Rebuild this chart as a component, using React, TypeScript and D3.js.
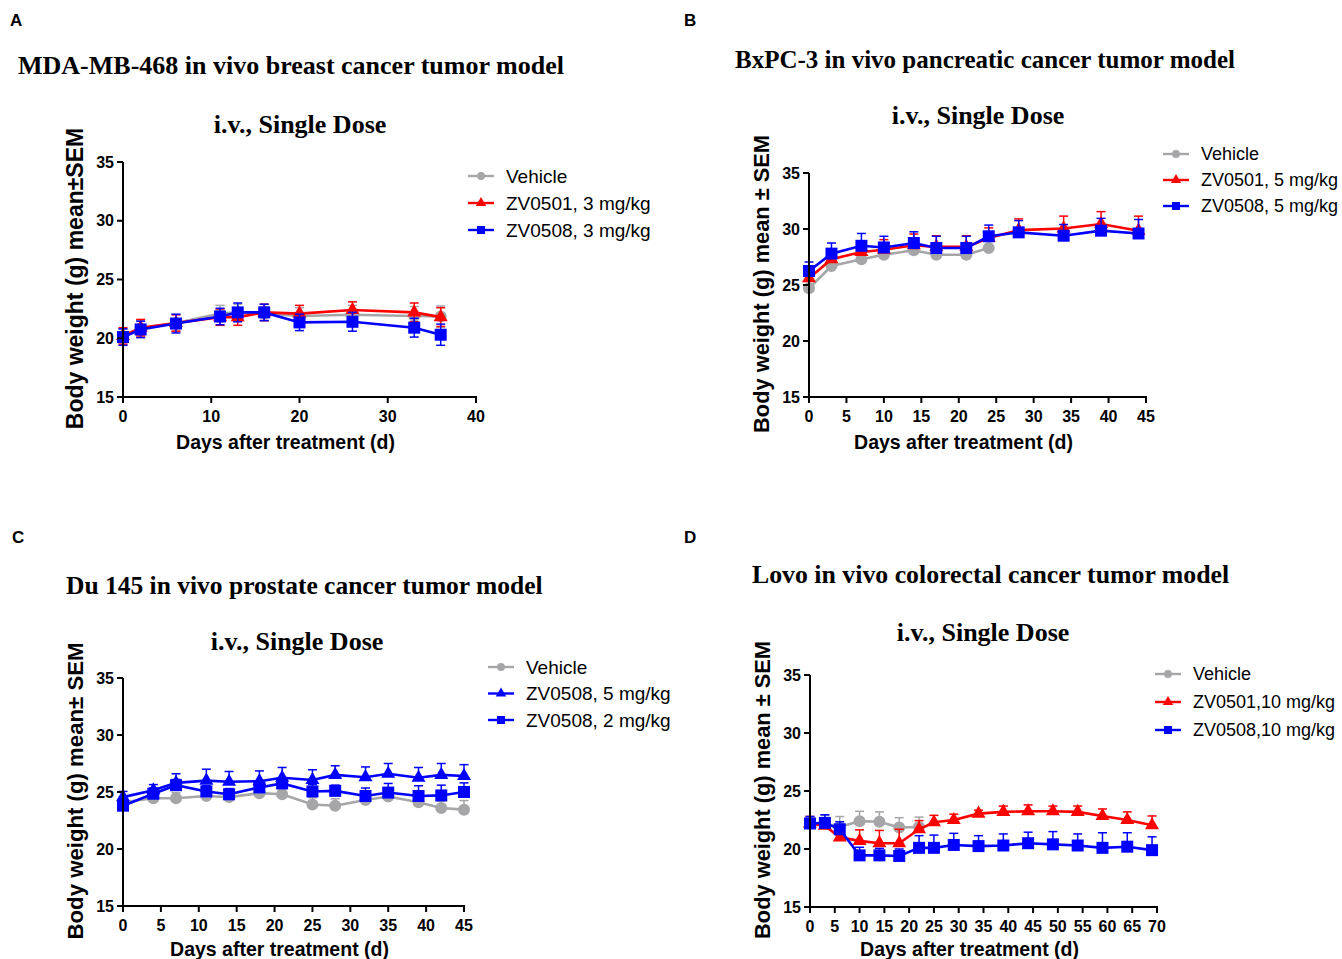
import React from 'react';
import * as d3 from 'd3';

const GRAY = '#a6a6a9';
const RED = '#ff0000';
const BLUE = '#0000ff';

// Panel A – MDA-MB-468
const daysA = [0, 2, 6, 11, 13, 16, 20, 26, 33, 36];
const vehicleA = [20.1, 20.8, 21.3, 22.1, 22.2, 22.1, 21.9, 22.0, 21.9, 21.85];
const vehicleAErr = [0.7, 0.7, 0.7, 0.7, 0.7, 0.6, 0.7, 0.8, 0.8, 0.9];
const zv0501A = [20.2, 20.9, 21.3, 21.8, 21.8, 22.2, 22.1, 22.4, 22.2, 21.8];
const zv0501AErr = [0.7, 0.7, 0.7, 0.7, 0.7, 0.7, 0.7, 0.7, 0.8, 0.8];
const zv0508A = [20.1, 20.75, 21.25, 21.85, 22.2, 22.2, 21.35, 21.4, 20.9, 20.3];
const zv0508AErr = [0.7, 0.7, 0.8, 0.7, 0.8, 0.7, 0.7, 0.8, 0.8, 0.9];

// Panel B – BxPC-3
const daysB = [0, 3, 7, 10, 14, 17, 21, 24, 28, 34, 39, 44];
const vehicleB = [24.7, 26.7, 27.3, 27.7, 28.1, 27.7, 27.7, 28.3];
const vehicleBErr = [0, 0, 0, 0, 0, 0, 0, 0];
const zv0501B = [25.6, 27.3, 27.95, 28.15, 28.55, 28.4, 28.4, 29.2, 29.9, 30.05, 30.45, 29.85];
const zv0501BErr = [0.8, 0.9, 1.0, 0.9, 1.0, 1.0, 1.0, 0.9, 1.0, 1.1, 1.1, 1.3];
const zv0508B = [26.25, 27.8, 28.5, 28.35, 28.75, 28.3, 28.3, 29.35, 29.7, 29.4, 29.85, 29.6];
const zv0508BErr = [0.8, 0.95, 1.1, 1.0, 1.0, 1.05, 1.05, 1.0, 1.05, 1.0, 1.1, 1.25];

// Panel C – Du 145
const daysC = [0, 4, 7, 11, 14, 18, 21, 25, 28, 32, 35, 39, 42, 45];
const vehicleC = [24.1, 24.45, 24.45, 24.65, 24.55, 24.9, 24.8, 23.9, 23.8, 24.3, 24.6, 24.1, 23.6, 23.45];
const vehicleCErr = [0.5, 0.4, 0.5, 0.5, 0.5, 0.5, 0.5, 0.6, 0.6, 0.6, 0.6, 0.6, 0.6, 0.8];
const zv0508_5C = [24.55, 25.15, 25.8, 26.0, 25.9, 25.95, 26.25, 26.05, 26.5, 26.3, 26.6, 26.25, 26.5, 26.4];
const zv0508_5CErr = [0.5, 0.5, 0.8, 1.0, 0.9, 0.9, 0.9, 0.9, 0.8, 0.9, 0.9, 0.9, 1.0, 1.0];
const zv0508_2C = [23.8, 24.85, 25.6, 25.05, 24.8, 25.4, 25.75, 25.05, 25.1, 24.65, 24.95, 24.65, 24.7, 25.0];
const zv0508_2CErr = [0.5, 0.5, 0.5, 0.5, 0.5, 0.5, 0.5, 0.6, 0.5, 0.7, 0.8, 0.9, 0.9, 0.8];

// Panel D – Lovo
const daysD = [0, 3, 6, 10, 14, 18, 22, 25, 29, 34, 39, 44, 49, 54, 59, 64, 69];
const vehicleD = [22.2, 22.2, 21.9, 22.4, 22.35, 21.85, 21.9];
const vehicleDErr = [0.6, 0.7, 0.9, 0.85, 0.85, 0.85, 0.85];
const zv0501D = [22.2, 22.0, 21.0, 20.7, 20.5, 20.5, 21.7, 22.3, 22.5, 23.05, 23.2, 23.25, 23.25, 23.2, 22.85, 22.5, 22.05];
const zv0501DErr = [0.6, 0.5, 0.5, 0.95, 1.1, 1.2, 0.75, 0.6, 0.5, 0.3, 0.5, 0.55, 0.45, 0.5, 0.6, 0.7, 0.8];
const zv0508D = [22.2, 22.25, 21.7, 19.45, 19.45, 19.4, 20.1, 20.1, 20.35, 20.25, 20.3, 20.5, 20.4, 20.3, 20.1, 20.2, 19.9];
const zv0508DErr = [0.6, 0.7, 0.65, 0.7, 0.6, 0.6, 1.05, 1.1, 1.0, 0.9, 1.0, 0.95, 1.1, 1.0, 1.3, 1.2, 1.15];

const yTicks = [15, 20, 25, 30, 35];
const xTicksA = [0, 10, 20, 30, 40];
const xTicksB = d3.range(0, 50, 5);
const xTicksC = d3.range(0, 50, 5);
const xTicksD = d3.range(0, 75, 5);

type Shape = 'circle' | 'triangle' | 'square';

interface Series {
  name: string;
  color: string;
  shape: Shape;
  days: number[];
  values: number[];
  errors: number[];
}

interface PanelCfg {
  letter: string;
  letterX: number;
  letterY: number;
  title: string;
  titleX: number;
  titleY: number;
  titleSize: number;
  subX: number;
  subY: number;
  x0: number;
  x1: number;
  yTop: number;
  yBot: number;
  xMax: number;
  xTicks: number[];
  yLabel: string;
  yLabelSize: number;
  legendX: number;
  legendY: number;
  legendDy: number;
  legendSize: number;
  bothErr: boolean;
  series: Series[];
}

const symbolType = (s: Shape) =>
  s === 'circle' ? d3.symbolCircle : s === 'triangle' ? d3.symbolTriangle : d3.symbolSquare;
const symbolSize = (s: Shape, big: boolean) =>
  s === 'circle' ? (big ? 113 : 50) : s === 'triangle' ? (big ? 85 : 48) : big ? 144 : 64;

const SANS = 'Liberation Sans, Arial, sans-serif';
const SERIF = 'Liberation Serif, Times New Roman, serif';

const Panel: React.FC<{ cfg: PanelCfg }> = ({ cfg }) => {
  const x = d3.scaleLinear().domain([0, cfg.xMax]).range([cfg.x0, cfg.x1]);
  const y = d3.scaleLinear().domain([15, 35]).range([cfg.yBot, cfg.yTop]);

  return (
    <g>
      <text x={cfg.letterX} y={cfg.letterY} fontFamily={SANS} fontWeight="bold" fontSize={17}>
        {cfg.letter}
      </text>
      <text x={cfg.titleX} y={cfg.titleY} fontFamily={SERIF} fontWeight="bold" fontSize={cfg.titleSize}>
        {cfg.title}
      </text>
      <text x={cfg.subX} y={cfg.subY} fontFamily={SERIF} fontWeight="bold" fontSize={26} textAnchor="middle">
        i.v., Single Dose
      </text>

      {/* series */}
      {cfg.series.map((s) => {
        const pts = s.values.map((v, i) => [x(s.days[i]), y(v)] as [number, number]);
        const path = d3.line()(pts);
        const sym = d3.symbol().type(symbolType(s.shape)).size(symbolSize(s.shape, true))();
        return (
          <g key={s.name}>
            {s.values.map((v, i) => {
              const e = s.errors[i];
              if (!e) return null;
              const cx = x(s.days[i]);
              const top = y(v + e);
              const bot = cfg.bothErr ? y(v - e) : y(v);
              return (
                <g key={i} stroke={s.color} strokeWidth={1.5}>
                  <line x1={cx} x2={cx} y1={top} y2={bot} />
                  <line x1={cx - 4.5} x2={cx + 4.5} y1={top} y2={top} />
                  {cfg.bothErr && <line x1={cx - 4.5} x2={cx + 4.5} y1={bot} y2={bot} />}
                </g>
              );
            })}
            <path d={path || ''} fill="none" stroke={s.color} strokeWidth={2.6} />
            {pts.map((p, i) => (
              <path key={i} d={sym || ''} transform={`translate(${p[0]},${p[1]})`} fill={s.color} />
            ))}
          </g>
        );
      })}

      {/* axes */}
      <g stroke="#000" strokeWidth={2} fill="none">
        <line x1={cfg.x0} x2={cfg.x0} y1={cfg.yTop} y2={cfg.yBot + 1} />
        <line x1={cfg.x0 - 1} x2={cfg.x1 + 1} y1={cfg.yBot} y2={cfg.yBot} />
        {yTicks.map((t) => (
          <line key={'yt' + t} x1={cfg.x0 - 6} x2={cfg.x0} y1={y(t)} y2={y(t)} />
        ))}
        {cfg.xTicks.map((t) => (
          <line key={'xt' + t} x1={x(t)} x2={x(t)} y1={cfg.yBot} y2={cfg.yBot + 6} />
        ))}
      </g>
      <g fontFamily={SANS} fontWeight="bold" fontSize={16} fill="#000">
        {yTicks.map((t) => (
          <text key={'yl' + t} x={cfg.x0 - 9} y={y(t)} dy="0.35em" textAnchor="end">
            {t}
          </text>
        ))}
        {cfg.xTicks.map((t) => (
          <text key={'xl' + t} x={x(t)} y={cfg.yBot + 25} textAnchor="middle">
            {t}
          </text>
        ))}
      </g>
      <text
        x={(cfg.x0 + cfg.x1) / 2 - 14}
        y={Math.min(cfg.yBot + 52, 956)}
        textAnchor="middle"
        fontFamily={SANS}
        fontWeight="bold"
        fontSize={19.5}
      >
        Days after treatment (d)
      </text>
      <text
        transform={`translate(${cfg.x0 - 40},${(cfg.yTop + cfg.yBot) / 2 - 1}) rotate(-90)`}
        textAnchor="middle"
        fontFamily={SANS}
        fontWeight="bold"
        fontSize={cfg.yLabelSize}
      >
        {cfg.yLabel}
      </text>

      {/* legend */}
      {cfg.series.map((s, i) => {
        const ly = cfg.legendY + i * cfg.legendDy;
        const sym = d3.symbol().type(symbolType(s.shape)).size(symbolSize(s.shape, false))();
        return (
          <g key={'lg' + s.name}>
            <line x1={cfg.legendX} x2={cfg.legendX + 26} y1={ly} y2={ly} stroke={s.color} strokeWidth={2.4} />
            <path d={sym || ''} transform={`translate(${cfg.legendX + 13},${ly})`} fill={s.color} />
            <text x={cfg.legendX + 38} y={ly} dy="0.35em" fontFamily={SANS} fontSize={cfg.legendSize}>
              {s.name}
            </text>
          </g>
        );
      })}
    </g>
  );
};

const panels: PanelCfg[] = [
  {
    letter: 'A', letterX: 10, letterY: 26,
    title: 'MDA-MB-468 in vivo breast cancer tumor model', titleX: 18, titleY: 74, titleSize: 26,
    subX: 300, subY: 133,
    x0: 123, x1: 476, yTop: 162, yBot: 397, xMax: 40, xTicks: xTicksA,
    yLabel: 'Body weight (g) mean\u00b1SEM', yLabelSize: 23,
    legendX: 468, legendY: 176, legendDy: 27, legendSize: 19, bothErr: true,
    series: [
      { name: 'Vehicle', color: GRAY, shape: 'circle', days: daysA, values: vehicleA, errors: vehicleAErr },
      { name: 'ZV0501, 3 mg/kg', color: RED, shape: 'triangle', days: daysA, values: zv0501A, errors: zv0501AErr },
      { name: 'ZV0508, 3 mg/kg', color: BLUE, shape: 'square', days: daysA, values: zv0508A, errors: zv0508AErr },
    ],
  },
  {
    letter: 'B', letterX: 684, letterY: 26,
    title: 'BxPC-3 in vivo pancreatic cancer tumor model', titleX: 735, titleY: 68, titleSize: 25,
    subX: 978, subY: 124,
    x0: 809, x1: 1146, yTop: 173, yBot: 397, xMax: 45, xTicks: xTicksB,
    yLabel: 'Body weight (g) mean \u00b1 SEM', yLabelSize: 21.8,
    legendX: 1163, legendY: 154, legendDy: 26, legendSize: 18, bothErr: false,
    series: [
      { name: 'Vehicle', color: GRAY, shape: 'circle', days: daysB, values: vehicleB, errors: vehicleBErr },
      { name: 'ZV0501, 5 mg/kg', color: RED, shape: 'triangle', days: daysB, values: zv0501B, errors: zv0501BErr },
      { name: 'ZV0508, 5 mg/kg', color: BLUE, shape: 'square', days: daysB, values: zv0508B, errors: zv0508BErr },
    ],
  },
  {
    letter: 'C', letterX: 12, letterY: 543,
    title: 'Du 145 in vivo prostate cancer tumor model', titleX: 66, titleY: 594, titleSize: 25.5,
    subX: 297, subY: 650,
    x0: 123, x1: 464, yTop: 678, yBot: 906, xMax: 45, xTicks: xTicksC,
    yLabel: 'Body weight (g) mean\u00b1 SEM', yLabelSize: 22.2,
    legendX: 488, legendY: 667, legendDy: 26.5, legendSize: 19, bothErr: false,
    series: [
      { name: 'Vehicle', color: GRAY, shape: 'circle', days: daysC, values: vehicleC, errors: vehicleCErr },
      { name: 'ZV0508, 5 mg/kg', color: BLUE, shape: 'triangle', days: daysC, values: zv0508_5C, errors: zv0508_5CErr },
      { name: 'ZV0508, 2 mg/kg', color: BLUE, shape: 'square', days: daysC, values: zv0508_2C, errors: zv0508_2CErr },
    ],
  },
  {
    letter: 'D', letterX: 684, letterY: 543,
    title: 'Lovo in vivo colorectal cancer tumor model', titleX: 752, titleY: 583, titleSize: 25.8,
    subX: 983, subY: 641,
    x0: 810, x1: 1157, yTop: 675, yBot: 907, xMax: 70, xTicks: xTicksD,
    yLabel: 'Body weight (g) mean \u00b1 SEM', yLabelSize: 21.8,
    legendX: 1155, legendY: 674, legendDy: 28, legendSize: 18, bothErr: false,
    series: [
      { name: 'Vehicle', color: GRAY, shape: 'circle', days: daysD, values: vehicleD, errors: vehicleDErr },
      { name: 'ZV0501,10 mg/kg', color: RED, shape: 'triangle', days: daysD, values: zv0501D, errors: zv0501DErr },
      { name: 'ZV0508,10 mg/kg', color: BLUE, shape: 'square', days: daysD, values: zv0508D, errors: zv0508DErr },
    ],
  },
];

const App: React.FC = () => {
  return (
    <div style={{ position: 'absolute', left: 0, top: 0 }}>
      <svg width={1342} height={959} style={{ display: 'block', background: '#fff' }}>
        {panels.map((p) => (
          <Panel key={p.letter} cfg={p} />
        ))}
      </svg>
    </div>
  );
};

export default App;
